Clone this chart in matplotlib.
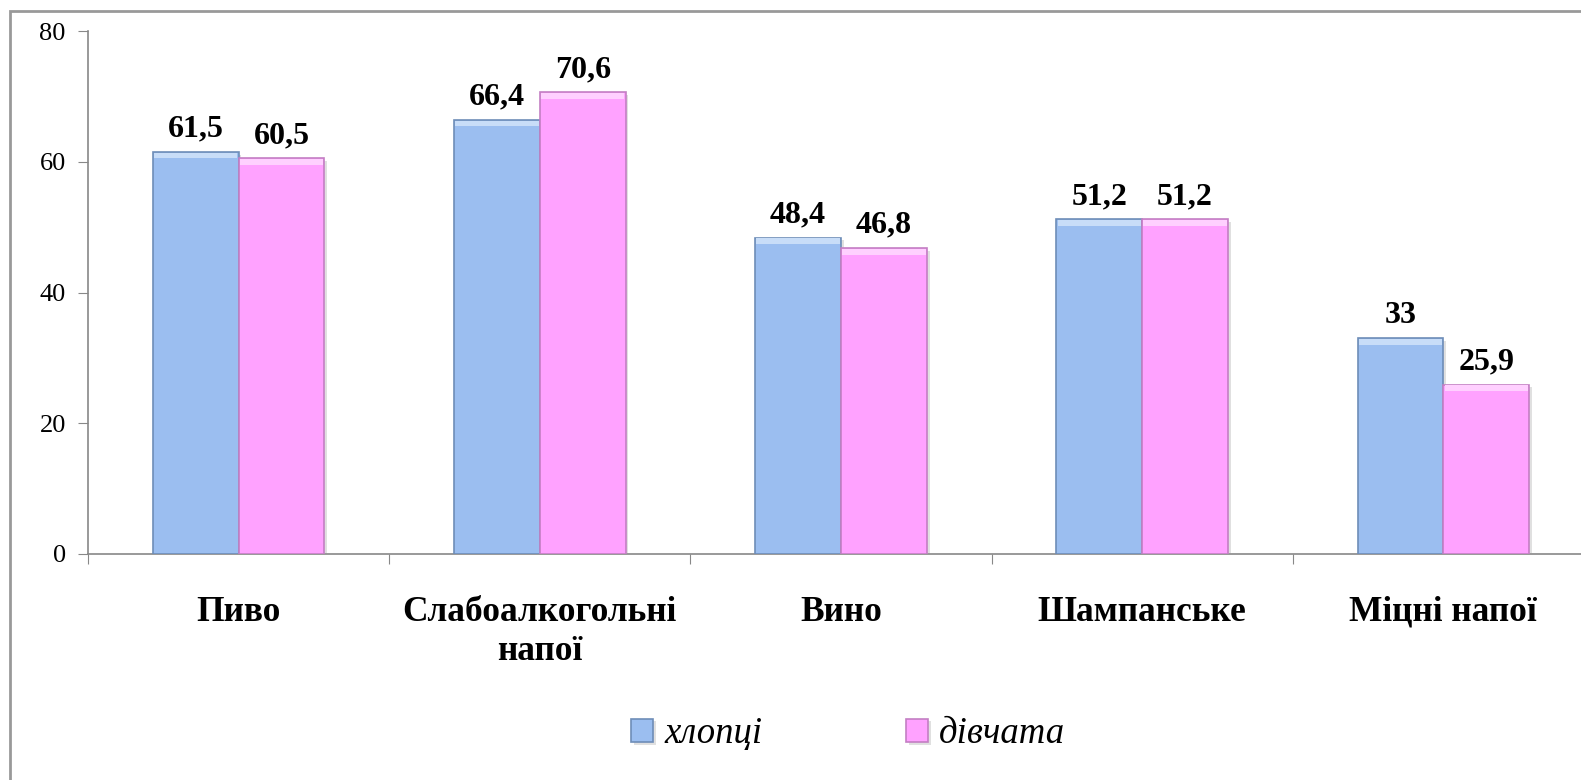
import matplotlib
matplotlib.use("Agg")
import matplotlib.pyplot as plt
from matplotlib.patches import Rectangle
import matplotlib.patheffects as pe
import numpy as np

categories = ["Пиво", "Слабоалкогольні\nнапої", "Вино", "Шампанське", "Міцні напої"]
boys = [61.5, 66.4, 48.4, 51.2, 33]
girls = [60.5, 70.6, 46.8, 51.2, 25.9]
boys_labels = ["61,5", "66,4", "48,4", "51,2", "33"]
girls_labels = ["60,5", "70,6", "46,8", "51,2", "25,9"]
series_names = ["хлопці", "дівчата"]
yticks = [0, 20, 40, 60, 80]

plt.rcParams['font.family'] = ['Liberation Serif', 'DejaVu Serif']

W, H = 1581, 780
fig = plt.figure(figsize=(W / 100, H / 100), dpi=100)
ax = fig.add_axes([88 / W, 1 - 554 / H, 1506 / W, (554 - 31) / H])

x = np.arange(len(categories))
bw = 0.285
blue, blue_edge, blue_hi = "#9BBEF0", "#6E8DB8", "#C8DDF8"
pink, pink_edge, pink_hi = "#FFA2FF", "#C47FC4", "#FFD0FF"

shadow = [pe.SimplePatchShadow(offset=(2, -2), shadow_rgbFace="#999999", alpha=0.3), pe.Normal()]
b1 = ax.bar(x - bw / 2, boys, bw, color=blue, edgecolor=blue_edge, linewidth=1.2,
            label=series_names[0], zorder=3, path_effects=shadow)
b2 = ax.bar(x + bw / 2, girls, bw, color=pink, edgecolor=pink_edge, linewidth=1.2,
            label=series_names[1], zorder=3, path_effects=shadow)
# top bevel highlight
ax.bar(x - bw / 2, [0.9] * len(x), bw * 0.97, bottom=np.array(boys) - 1.0, color=blue_hi,
       linewidth=0, zorder=4)
ax.bar(x + bw / 2, [0.9] * len(x), bw * 0.97, bottom=np.array(girls) - 1.0, color=pink_hi,
       linewidth=0, zorder=4)

for xi, v, lab in zip(x - bw / 2, boys, boys_labels):
    ax.annotate(lab, (xi, v), xytext=(0, 6), textcoords="offset points", ha="center",
                va="bottom", fontsize=23, fontweight="bold")
for xi, v, lab in zip(x + bw / 2, girls, girls_labels):
    ax.annotate(lab, (xi, v), xytext=(0, 6), textcoords="offset points", ha="center",
                va="bottom", fontsize=23, fontweight="bold")

ax.set_xlim(-0.5, len(categories) - 0.5)
ax.set_ylim(0, 80)
ax.set_yticks(yticks)
ax.set_yticklabels([str(t) for t in yticks], fontsize=19)
ax.set_xticks(np.arange(-0.5, len(categories), 1.0))
ax.set_xticklabels([])
ax.set_xticks(x, minor=True)
ax.set_xticklabels(categories, minor=True, fontsize=25.5, fontweight="bold", linespacing=1.25)
ax.tick_params(axis="x", which="minor", length=0, pad=30)
ax.tick_params(axis="x", which="major", length=7, color="#888888", direction="out")
ax.tick_params(axis="y", length=7, color="#888888", direction="out", pad=9)
for s in ["top", "right"]:
    ax.spines[s].set_visible(False)
for s in ["left", "bottom"]:
    ax.spines[s].set_color("#888888")
    ax.spines[s].set_linewidth(1.2)

fig.legend(handles=[b1, b2], labels=series_names, loc="center", bbox_to_anchor=(848 / W, 1 - 734 / H),
           ncol=2, frameon=False, prop={"family": "Liberation Serif", "style": "italic", "size": 26.5},
           handlelength=0.6, handleheight=0.6, handletextpad=0.3, columnspacing=3.9)

fig.add_artist(Rectangle((10 / W, -0.2), 2.0, 1 - 11 / H + 0.2, transform=fig.transFigure,
                         fill=False, edgecolor="#999999", linewidth=2))

fig.savefig("out.png", dpi=100)
